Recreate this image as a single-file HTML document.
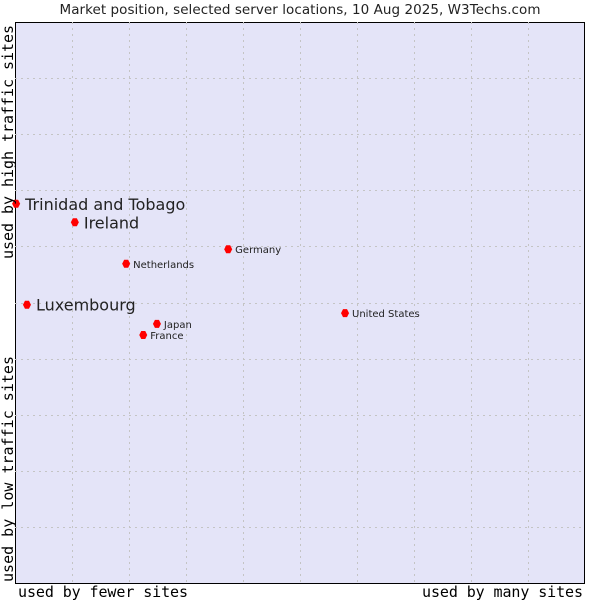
<!DOCTYPE html>
<html><head><meta charset="utf-8"><style>
body{margin:0;background:#fff;width:600px;height:600px;overflow:hidden}
svg{display:block}
</style></head><body>
<svg id="chart" width="600" height="600">
<text x="300" y="14" text-anchor="middle" font-family="DejaVu Sans, sans-serif" font-size="13.5" textLength="481" fill="#222">Market position, selected server locations, 10 Aug 2025, W3Techs.com</text>
<rect x="15.5" y="22.5" width="569" height="561" fill="#e4e4f8" stroke="#000" stroke-width="1"/>
<g id="grid"></g>
<g id="points"></g>
<text x="18" y="597" font-family="DejaVu Sans Mono, monospace" font-size="15" textLength="170" fill="#000">used by fewer sites</text>
<text x="422" y="597" font-family="DejaVu Sans Mono, monospace" font-size="15" textLength="161" fill="#000">used by many sites</text>
<text transform="translate(13,259) rotate(-90)" font-family="DejaVu Sans Mono, monospace" font-size="15" textLength="234" fill="#000">used by high traffic sites</text>
<text transform="translate(13,582) rotate(-90)" font-family="DejaVu Sans Mono, monospace" font-size="15" textLength="226" fill="#000">used by low traffic sites</text>
</svg>
<script>
const names=["Trinidad and Tobago","Ireland","Netherlands","Germany","Luxembourg","Japan","France","United States"];
const xVals=[0.2,10.5,19.5,37.4,2.1,24.9,22.5,57.9];
const yVals=[67.6,64.3,56.9,59.5,49.6,46.2,44.2,48.1];
const bigLabel=[true,true,false,false,true,false,false,false];
const L=15,T=22,W=570,H=561;
const xs=v=>L+v/100*W, ys=v=>T+H-v/100*H;
const NS="http://www.w3.org/2000/svg";
const grid=document.getElementById('grid');
for(let i=1;i<10;i++){
 const gx=Math.round(L+i*W/10)+0.5, gy=Math.round(T+i*H/10)+0.5;
 const a=document.createElementNS(NS,'line');
 
 
 a.setAttribute('x1',gx);a.setAttribute('x2',gx);a.setAttribute('y1',T);a.setAttribute('y2',T+H);
 a.setAttribute('stroke','#c4c4c4');a.setAttribute('stroke-dasharray','2,4');grid.appendChild(a);
 const b=document.createElementNS(NS,'line');
 
 
 b.setAttribute('x1',L);b.setAttribute('x2',L+W);b.setAttribute('y1',gy);b.setAttribute('y2',gy);
 b.setAttribute('stroke','#c4c4c4');b.setAttribute('stroke-dasharray','2,4');grid.appendChild(b);
}
const pts=document.getElementById('points');
names.forEach((n,i)=>{
 const x=xs(xVals[i]),y=ys(yVals[i]);
 const d=document.createElementNS(NS,'path');
 
 
 d.setAttribute('d',`M${x-4},${y}L${x-2},${y-4}L${x+2},${y-4}L${x+4},${y}L${x+2},${y+4}L${x-2},${y+4}Z`);
 d.setAttribute('fill','#f00');pts.appendChild(d);
 const t=document.createElementNS(NS,'text');
 
 
 t.setAttribute('x',x+(bigLabel[i]?9:7));t.setAttribute('y',y+(bigLabel[i]?6:4));
 t.setAttribute('font-family','DejaVu Sans, sans-serif');
 t.setAttribute('font-size',bigLabel[i]?16:10);t.setAttribute('fill','#222');
 t.textContent=n;pts.appendChild(t);
});
</script>
</body></html>
